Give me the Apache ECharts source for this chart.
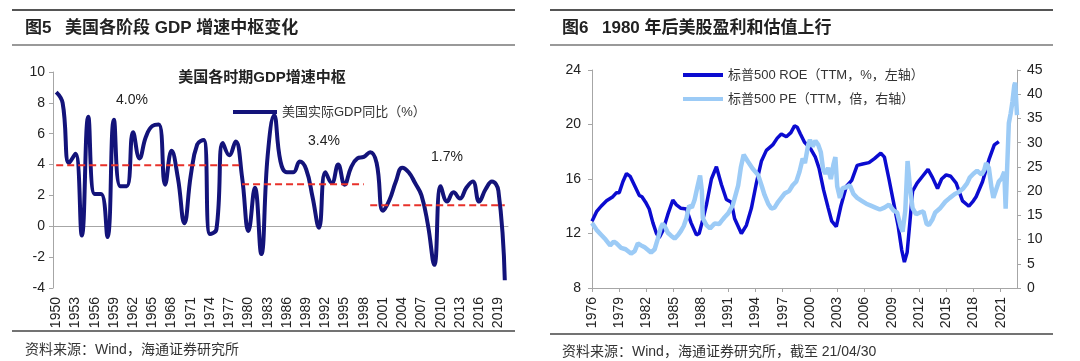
<!DOCTYPE html>
<html><head><meta charset="utf-8">
<script src="https://cdn.jsdelivr.net/npm/echarts@6/dist/echarts.min.js"></script>
<style>html,body{margin:0;padding:0;background:#fff}#c{width:1080px;height:361px}</style>
</head><body><div id="c"></div>
<script>
// ---------- Left chart data ----------
const gdpYears = ['1950','1951','1952','1953','1954','1955','1956','1957','1958','1959',
'1960','1961','1962','1963','1964','1965','1966','1967','1968','1969',
'1970','1971','1972','1973','1974','1975','1976','1977','1978','1979',
'1980','1981','1982','1983','1984','1985','1986','1987','1988','1989',
'1990','1991','1992','1993','1994','1995','1996','1997','1998','1999',
'2000','2001','2002','2003','2004','2005','2006','2007','2008','2009',
'2010','2011','2012','2013','2014','2015','2016','2017','2018','2019','2020'];
const gdpValues = [8.7,8.0,4.1,4.7,-0.6,7.1,2.1,2.1,-0.7,6.9,
2.6,2.6,6.1,4.4,5.8,6.5,6.6,2.7,4.9,3.1,
0.2,3.3,5.3,5.6,-0.5,-0.2,5.4,4.6,5.5,3.2,
-0.3,2.5,-1.8,4.6,7.2,4.2,3.5,3.5,4.2,3.7,
1.9,-0.1,3.5,2.8,4.0,2.7,3.8,4.4,4.5,4.8,
4.1,1.0,1.7,2.9,3.8,3.5,2.8,2.0,0.1,-2.5,
2.6,1.6,2.2,1.8,2.5,2.9,1.6,2.4,2.9,2.3,-3.5];
const periodStart = ['1950','1979','1999'];
const periodEnd = ['1979','1998','2020'];
const periodLevel = [3.95, 2.72, 1.37];
const periodText = ['4.0%','3.4%','1.7%'];

// ---------- Right chart data ----------
const xTicksRight = [1976, 2022.8];
const roeYears = [1976.0,1976.5,1977.0,1977.6,1978.3,1978.7,1979.0,1979.4,1979.8,1980.2,1980.7,1981.2,1981.5,1981.9,1982.3,1982.7,1983.1,1983.4,1983.8,1984.35,1984.9,1985.3,1985.8,1986.4,1986.9,1987.5,1987.8,1988.2,1988.6,1989.15,1989.7,1990.25,1990.8,1991.35,1991.7,1992.45,1993.0,1993.55,1994.1,1994.65,1995.2,1995.9,1996.4,1996.85,1997.4,1997.9,1998.3,1998.6,1998.95,1999.4,2000.0,2000.6,2001.0,2001.5,2002.0,2002.4,2002.9,2003.4,2004.0,2004.6,2005.2,2005.8,2006.5,2007.1,2007.8,2008.2,2008.7,2009.2,2009.7,2010.1,2010.4,2010.7,2011.0,2011.3,2011.8,2012.4,2013.0,2013.5,2014.05,2014.5,2015.0,2015.5,2016.1,2016.8,2017.5,2018.0,2018.3,2019.0,2019.75,2020.3,2020.8];
const roeValues = [12.9,13.6,14.0,14.4,14.7,15.0,15.0,15.8,16.4,16.2,15.5,14.8,14.7,14.3,13.8,12.8,12.0,11.7,12.2,13.4,14.45,14.1,13.85,13.8,12.8,11.9,12.0,13.0,14.1,16.0,16.9,15.6,14.5,14.3,13.1,12.0,12.6,13.85,15.7,17.3,18.1,18.5,19.0,19.3,19.1,19.4,19.9,19.8,19.3,18.7,18.3,17.6,16.8,15.2,13.9,12.9,12.5,14.0,15.45,15.9,17.0,17.1,17.2,17.5,17.9,17.6,16.0,14.3,12.6,10.8,9.9,10.6,12.8,15.1,15.7,16.2,16.7,16.1,15.3,16.0,16.3,16.2,15.7,14.4,14.0,14.4,14.7,15.8,17.5,18.5,18.75];
const peYears = [1976.0,1976.5,1977.0,1977.5,1978.0,1978.4,1978.7,1979.2,1979.7,1980.3,1980.7,1981.05,1981.4,1981.8,1982.2,1982.5,1982.9,1983.25,1983.6,1983.8,1984.1,1984.35,1984.7,1985.1,1985.5,1985.8,1986.1,1986.4,1986.7,1987.0,1987.3,1987.6,1987.9,1988.1,1988.2,1988.6,1989.0,1989.5,1990.0,1990.25,1990.6,1991.0,1991.5,1992.1,1992.4,1992.7,1993.2,1993.7,1994.3,1994.7,1995.0,1995.4,1995.75,1996.1,1996.5,1997.2,1997.7,1998.1,1998.5,1998.85,1999.2,1999.45,1999.8,2000.0,2000.3,2000.6,2000.9,2001.2,2001.45,2001.7,2002.0,2002.3,2002.6,2002.8,2003.0,2003.3,2003.6,2004.0,2004.4,2004.8,2005.2,2005.7,2006.2,2006.7,2007.2,2007.7,2008.2,2008.7,2009.2,2009.6,2010.0,2010.2,2010.5,2010.75,2011.0,2011.3,2011.7,2012.1,2012.5,2012.85,2013.1,2013.5,2013.8,2014.3,2014.9,2015.4,2015.95,2016.4,2016.9,2017.3,2017.6,2018.0,2018.4,2018.9,2019.2,2019.4,2019.7,2020.0,2020.2,2020.4,2020.8,2021.1,2021.4,2021.55,2021.7,2021.9,2022.1,2022.3,2022.5,2022.6,2022.7,2022.8];
const peValues = [13.4,12.0,11.0,10.0,8.8,9.6,9.2,8.3,8.0,7.1,7.6,9.2,8.8,8.4,7.8,7.3,8.0,10.2,12.6,13.3,12.4,11.4,10.8,10.2,11.0,11.8,12.8,14.4,17.0,16.6,18.2,20.8,23.2,20.0,14.4,13.0,12.3,13.3,13.2,13.8,14.6,15.4,17.1,21.2,25.0,27.5,26.0,24.6,23.3,21.0,19.2,17.4,16.4,16.6,17.8,19.5,20.0,21.2,22.0,24.0,26.7,25.8,29.5,30.6,29.2,30.4,29.6,28.0,24.5,23.6,24.8,22.5,25.6,27.0,21.0,18.6,20.6,20.8,21.2,19.4,18.6,18.0,17.4,17.0,16.6,16.2,16.6,17.2,16.0,15.6,12.6,11.6,16.0,26.2,21.0,16.5,15.2,15.6,15.8,13.2,13.0,14.2,15.6,16.4,17.8,18.6,19.4,19.8,20.6,21.6,22.8,23.6,24.2,23.4,24.4,25.8,24.8,20.6,18.6,19.0,22.0,22.6,24.0,16.4,24.0,34.0,36.0,38.5,41.8,42.4,39.0,35.7];

const FONT = '"Liberation Sans", Arial, "Noto Sans CJK SC", sans-serif';
const AX = '#a6a6a6';
const LBL = '#222';
const ROE_NAME = '标普500 ROE（TTM，%，左轴）';
const PE_NAME = '标普500 PE（TTM，倍，右轴）';
const GDP_NAME = '美国实际GDP同比（%）';

const chart = echarts.init(document.getElementById('c'));

const dashSeries = periodStart.map((s, i) => ({
  type: 'line', xAxisIndex: 0, yAxisIndex: 0, silent: true, z: 4,
  data: [[s, periodLevel[i]], [periodEnd[i], periodLevel[i]]],
  showSymbol: false, symbol: 'none',
  lineStyle: { type: [7, 4], width: 2, color: '#e8312a' }
}));

function hline(x1, x2, y, w, c) {
  return { type: 'line', shape: { x1: x1, y1: y, x2: x2, y2: y }, style: { stroke: c, lineWidth: w }, silent: true };
}
function txt(x, y, t, size, weight, align, color) {
  return { type: 'text', x: x, y: y, style: { text: t, fontSize: size, fontWeight: weight || 'normal', fontFamily: FONT, fill: color || '#222', align: align || 'left', verticalAlign: 'middle' }, silent: true };
}

const option = {
  animation: false,
  textStyle: { fontFamily: FONT },
  grid: [
    { left: 53, top: 72, width: 455, height: 216 },
    { left: 592, top: 70, width: 425, height: 218 }
  ],
  legend: [
    { data: [GDP_NAME], left: 228, top: 99, icon: 'rect', itemWidth: 44, itemHeight: 4, selectedMode: false,
      textStyle: { fontSize: 13, color: '#333', lineHeight: 16, fontFamily: FONT } },
    { data: [ROE_NAME, PE_NAME], left: 678, top: 62, orient: 'vertical', icon: 'rect', itemWidth: 40, itemHeight: 4, itemGap: 8, selectedMode: false,
      textStyle: { fontSize: 13, color: '#333', lineHeight: 16, fontFamily: FONT } }
  ],
  xAxis: [
    { gridIndex: 0, type: 'category', data: gdpYears, boundaryGap: true,
      axisLine: { show: false, onZero: false }, axisTick: { show: false },
      axisLabel: { interval: 2, rotate: 90, fontSize: 14, color: LBL, margin: 9 } },
    { gridIndex: 0, type: 'category', data: gdpYears, boundaryGap: true, position: 'top',
      axisLine: { onZero: true, lineStyle: { color: AX, width: 1 } },
      axisTick: { interval: 2, inside: true, length: 4, lineStyle: { color: AX } },
      axisLabel: { show: false } },
    { gridIndex: 1, type: 'value', min: xTicksRight[0], max: xTicksRight[1], interval: 3,
      axisLine: { lineStyle: { color: AX } }, axisTick: { length: 4, lineStyle: { color: AX } },
      splitLine: { show: false },
      axisLabel: { rotate: 90, fontSize: 14, color: LBL, margin: 9, showMaxLabel: false, formatter: v => String(Math.round(v)) } }
  ],
  yAxis: [
    { gridIndex: 0, type: 'value', min: -4, max: 10, interval: 2,
      axisLine: { show: true, lineStyle: { color: AX } }, axisTick: { show: true, length: 4, lineStyle: { color: AX } },
      splitLine: { show: false }, axisLabel: { fontSize: 14, color: LBL, margin: 8 } },
    { gridIndex: 1, type: 'value', min: 8, max: 24, interval: 4,
      axisLine: { show: true, lineStyle: { color: AX } }, axisTick: { show: true, length: 4, lineStyle: { color: AX } },
      splitLine: { show: false }, axisLabel: { fontSize: 14, color: LBL, margin: 11 } },
    { gridIndex: 1, type: 'value', position: 'right', min: 0, max: 45, interval: 5,
      axisLine: { show: true, lineStyle: { color: AX } }, axisTick: { show: true, length: 4, lineStyle: { color: AX } },
      splitLine: { show: false }, axisLabel: { fontSize: 14, color: LBL, margin: 10 } }
  ],
  series: [
    { type: 'line', name: GDP_NAME, xAxisIndex: 0, yAxisIndex: 0, data: gdpValues, smooth: 0.45,
      showSymbol: false, symbol: 'none', z: 3, lineStyle: { width: 4, color: '#13137a' }, itemStyle: { color: '#13137a' } },
    ...dashSeries,
    { type: 'line', name: ROE_NAME, xAxisIndex: 2, yAxisIndex: 1, data: roeYears.map((x, i) => [x, roeValues[i]]),
      showSymbol: false, symbol: 'none', lineStyle: { width: 3.5, color: '#0b0bd0' }, itemStyle: { color: '#0b0bd0' } },
    { type: 'line', name: PE_NAME, xAxisIndex: 2, yAxisIndex: 2, data: peYears.map((x, i) => [x, peValues[i]]),
      showSymbol: false, symbol: 'none', lineStyle: { width: 4.5, color: '#9ccbf6' }, itemStyle: { color: '#9ccbf6' } }
  ],
  graphic: [
    hline(12, 515, 10, 2, '#555'), hline(12, 515, 45, 1.5, '#777'),
    hline(550, 1053, 10, 2, '#555'), hline(550, 1053, 45, 1.5, '#777'),
    hline(12, 515, 331, 1.5, '#444'), hline(550, 1053, 334, 1.5, '#444'),
    txt(25, 28, '图5', 17, 'bold'), txt(65, 28, '美国各阶段 GDP 增速中枢变化', 17, 'bold'),
    txt(562, 28, '图6', 17, 'bold'), txt(602, 28, '1980 年后美股盈利和估值上行', 17, 'bold'),
    txt(25, 350, '资料来源：Wind，海通证券研究所', 14, 'normal', 'left', '#333'),
    txt(562, 352, '资料来源：Wind，海通证券研究所，截至 21/04/30', 14, 'normal', 'left', '#333'),
    txt(262, 78, '美国各时期GDP增速中枢', 15, 'bold', 'center'),
    txt(132, 100, periodText[0], 14, 'normal', 'center'),
    txt(324, 141, periodText[1], 14, 'normal', 'center'),
    txt(447, 157, periodText[2], 14, 'normal', 'center')
  ]
};
chart.setOption(option);
</script></body></html>
